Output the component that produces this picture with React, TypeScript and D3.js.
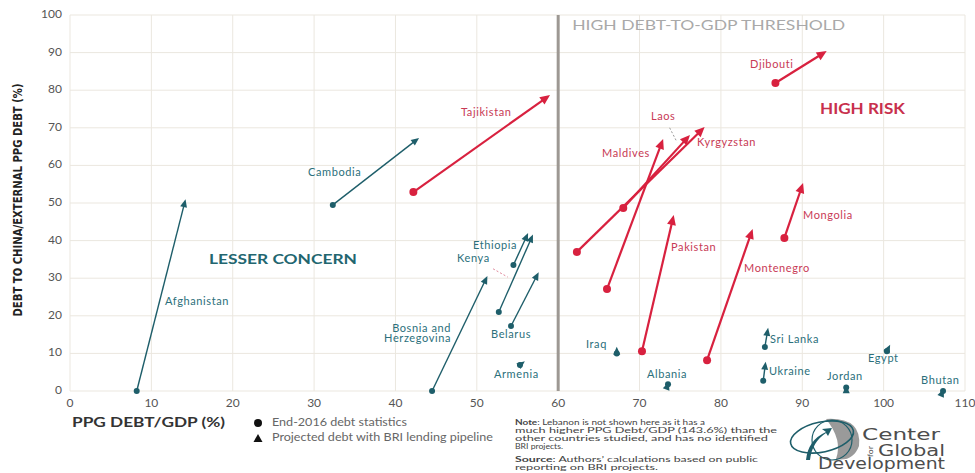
import React from 'react';
import * as d3 from 'd3';

// ---- Data ----
const countries = [
  'Afghanistan', 'Cambodia', 'Tajikistan', 'Djibouti', 'Kyrgyzstan', 'Laos', 'Maldives',
  'Pakistan', 'Montenegro', 'Mongolia', 'Ethiopia', 'Kenya', 'Bosnia and Herzegovina',
  'Belarus', 'Armenia', 'Iraq', 'Albania', 'Sri Lanka', 'Ukraine', 'Jordan', 'Egypt', 'Bhutan',
];
const debtGdp2016 = [8.2, 32.3, 42.2, 86.7, 62.3, 68.0, 66.0, 70.3, 78.3, 87.8, 54.5, 52.7, 44.5, 54.2, 55.3, 67.2, 73.5, 85.4, 85.2, 95.4, 100.4, 107.3];
const chinaShare2016 = [0, 49.5, 52.9, 81.9, 37.0, 48.7, 27.1, 10.6, 8.2, 40.7, 33.5, 21.0, 0, 17.3, 6.9, 10.0, 1.8, 11.7, 2.7, 0.9, 10.6, 0];
const debtGdpProjected = [14.2, 42.9, 59.0, 93.0, 78.0, 76.2, 72.9, 74.2, 83.9, 90.1, 56.3, 56.9, 51.3, 57.6, 55.9, 67.2, 73.6, 85.8, 85.5, 95.4, 100.8, 107.4];
const chinaShareProjected = [51, 67.3, 78.7, 90.4, 70.2, 68.1, 67.0, 46.8, 43.1, 55.3, 42.0, 41.6, 30.6, 31.6, 7.9, 11.8, 2.4, 16.8, 7.8, 1.5, 12.3, 0.5];
const highRisk = [false, false, true, true, true, true, true, true, true, true, false, false, false, false, false, false, false, false, false, false, false, false];

const xTickValues = [0, 10, 20, 30, 40, 50, 60, 70, 80, 90, 100, 110];
const yTickValues = [0, 10, 20, 30, 40, 50, 60, 70, 80, 90, 100];
const threshold = 60;

// ---- Label placement (data units), layout only ----
const labelLines: Record<string, string[]> = { 'Bosnia and Herzegovina': ['Bosnia and', 'Herzegovina'] };
const labelPos: Record<string, [number, number, string]> = {
  Afghanistan: [11.68, 23.7, 'start'],
  Cambodia: [29.25, 58.0, 'start'],
  Tajikistan: [48.06, 73.9, 'start'],
  Djibouti: [83.58, 86.7, 'start'],
  Kyrgyzstan: [77.07, 66.0, 'start'],
  Laos: [71.4, 72.9, 'start'],
  Maldives: [65.4, 63.0, 'start'],
  Pakistan: [73.87, 38.0, 'start'],
  Montenegro: [82.84, 32.4, 'start'],
  Mongolia: [90.09, 46.5, 'start'],
  Ethiopia: [49.53, 38.6, 'start'],
  Kenya: [47.57, 35.1, 'start'],
  'Bosnia and Herzegovina': [46.83, 16.5, 'end'],
  Belarus: [51.75, 14.9, 'start'],
  Armenia: [52.11, 4.3, 'start'],
  Iraq: [63.42, 12.2, 'start'],
  Albania: [70.92, 4.3, 'start'],
  'Sri Lanka': [86.04, 13.6, 'start'],
  Ukraine: [85.91, 5.1, 'start'],
  Jordan: [93.04, 3.7, 'start'],
  Egypt: [98.08, 8.5, 'start'],
  Bhutan: [104.6, 2.7, 'start'],
};
const leaders: [number, number, number, number, string][] = [
  [73.7, 70.0, 74.6, 66.2, 'Laos'],
  [52.0, 32.5, 53.8, 30.3, 'Kenya'],
];

const TEAL = '#1e5e6a';
const TEAL_TXT = '#2b6f7b';
const RED = '#d8213f';
const RED_TXT = '#c83a55';
const GRID = '#ebe7df';

export default function App() {
  const x = d3.scaleLinear().domain([0, 110]).range([70, 965]);
  const y = d3.scaleLinear().domain([0, 100]).range([391, 15]);

  const marks = countries.map((name, i) => {
    const x0 = x(debtGdp2016[i]), y0 = y(chinaShare2016[i]);
    const x1 = x(debtGdpProjected[i]), y1 = y(chinaShareProjected[i]);
    const red = highRisk[i];
    const a = Math.atan2(y1 - y0, x1 - x0);
    const L = red ? 10 : 8;
    const w = red ? 4.5 : 3.5;
    const c = Math.cos(a), s = Math.sin(a);
    const bx = x1 - L * c, by = y1 - L * s;
    const tri = `M${x1},${y1}L${bx + w * s},${by - w * c}L${bx - w * s},${by + w * c}Z`;
    const len = Math.hypot(x1 - x0, y1 - y0);
    const lx = len > L ? x1 - L * 0.6 * c : x0;
    const ly = len > L ? y1 - L * 0.6 * s : y0;
    return { name, x0, y0, lx, ly, tri, red };
  });

  const font = "Lato, 'Open Sans', sans-serif";

  return (
    <svg width={975} height={473} viewBox="0 0 975 473"
      style={{ position: 'absolute', left: 0, top: 0, background: '#fff' }}
      fontFamily={font}>
      <rect x={0} y={0} width={975} height={473} fill="#fff" />
      {/* grid */}
      <g stroke={GRID} strokeWidth={1}>
        {xTickValues.map(v => (
          <line key={'gx' + v} x1={x(v)} x2={x(v)} y1={y(0)} y2={y(100)} />
        ))}
        {yTickValues.map(v => (
          <line key={'gy' + v} x1={x(0)} x2={x(110)} y1={y(v)} y2={y(v)} />
        ))}
      </g>
      {/* threshold */}
      <line x1={x(threshold)} x2={x(threshold)} y1={y(100)} y2={y(0)} stroke="#9d9893" strokeWidth={3} />
      <text x={x(threshold) + 14} y={27} dominantBaseline="middle" fill="#a9a9a9" fontSize={13.5}
        textLength={273} lengthAdjust="spacingAndGlyphs">HIGH DEBT-TO-GDP THRESHOLD</text>

      {/* ticks */}
      {yTickValues.map(v => (
        <text key={'ty' + v} x={62} y={y(v)} textAnchor="end" dominantBaseline="middle" fontSize={12} fill="#555">{v}</text>
      ))}
      {xTickValues.map(v => (
        <text key={'tx' + v} x={x(v)} y={404} textAnchor="middle" dominantBaseline="middle" fontSize={12} fill="#555">{v}</text>
      ))}

      {/* axis titles */}
      <text transform={`translate(18,200) rotate(-90)`} textAnchor="middle" dominantBaseline="middle"
        fontFamily="'Liberation Sans Narrow', 'DejaVu Sans Condensed', sans-serif" fontWeight="bold" fontSize={13}
        fill="#222" textLength={233} lengthAdjust="spacingAndGlyphs">DEBT TO CHINA/EXTERNAL PPG DEBT (%)</text>
      <text x={72} y={423} dominantBaseline="middle" fontWeight="bold" fontSize={14} fill="#333"
        textLength={153} lengthAdjust="spacingAndGlyphs">PPG DEBT/GDP (%)</text>

      {/* region labels */}
      <text x={820} y={110} dominantBaseline="middle" fontWeight="bold" fontSize={14.5} fill="#c8304d"
        textLength={85} lengthAdjust="spacingAndGlyphs">HIGH RISK</text>
      <text x={209} y={261} dominantBaseline="middle" fontWeight="bold" fontSize={13.5} fill="#22666f"
        textLength={148} lengthAdjust="spacingAndGlyphs">LESSER CONCERN</text>

      {/* leaders */}
      {leaders.map(([ax, ay, bx, by, n]) => (
        <line key={'ld' + n} x1={x(ax)} y1={y(ay)} x2={x(bx)} y2={y(by)}
          stroke={n === 'Kenya' ? '#e0889a' : '#999'} strokeWidth={1} strokeDasharray="2,2" />
      ))}

      {/* arrows */}
      {marks.map(m => (
        <line key={'l' + m.name} x1={m.x0} y1={m.y0} x2={m.lx} y2={m.ly}
          stroke={m.red ? RED : TEAL} strokeWidth={m.red ? 2.2 : 1.4} />
      ))}
      {marks.map(m => (
        <g key={'m' + m.name} fill={m.red ? RED : TEAL}>
          <circle cx={m.x0} cy={m.y0} r={m.red ? 4 : 3} />
          <path d={m.tri} />
        </g>
      ))}

      {/* country labels */}
      {countries.map((name, i) => {
        const p = labelPos[name];
        const lines = labelLines[name] || [name];
        return (
          <text key={'t' + name} x={x(p[0])} y={y(p[1])} textAnchor={p[2]} dominantBaseline="middle"
            fontSize={11} letterSpacing={0.6} fill={highRisk[i] ? RED_TXT : TEAL_TXT}>
            {lines.map((ln, k) => (
              <tspan key={k} x={x(p[0])} dy={k === 0 ? 0 : 10.5}>{ln}</tspan>
            ))}
          </text>
        );
      })}

      {/* legend */}
      <circle cx={258} cy={423} r={4} fill="#111" />
      <path d="M258,434L262.5,442L253.5,442Z" fill="#111" />
      <text x={272} y={423} dominantBaseline="middle" fontSize={11} fill="#666"
        textLength={135} lengthAdjust="spacingAndGlyphs">End-2016 debt statistics</text>
      <text x={272} y={438} dominantBaseline="middle" fontSize={11} fill="#666"
        textLength={221} lengthAdjust="spacingAndGlyphs">Projected debt with BRI lending pipeline</text>

      {/* note */}
      <g fontSize={7.6} fill="#444">
        <text x={515} y={423} dominantBaseline="middle" textLength={190} lengthAdjust="spacingAndGlyphs">
          <tspan fontWeight="bold">Note</tspan>: Lebanon is not shown here as it has a</text>
        <text x={515} y={431.5} dominantBaseline="middle" textLength={262} lengthAdjust="spacingAndGlyphs">much higher PPG Debt/GDP (143.6%) than the</text>
        <text x={515} y={439.5} dominantBaseline="middle" textLength={253} lengthAdjust="spacingAndGlyphs">other countries studied, and has no identified</text>
        <text x={515} y={447.5} dominantBaseline="middle" textLength={48} lengthAdjust="spacingAndGlyphs">BRI projects.</text>
        <text x={515} y={460} dominantBaseline="middle" textLength={243} lengthAdjust="spacingAndGlyphs">
          <tspan fontWeight="bold">Source</tspan>: Authors’ calculations based on public</text>
        <text x={515} y={468} dominantBaseline="middle" textLength={143} lengthAdjust="spacingAndGlyphs">reporting on BRI projects.</text>
      </g>

      {/* logo */}
      <g>
        <path d="M826,419 Q862,417 859,446 Q853,462 836,459 Q843,440 826,419 Z" fill="#9a9a9a" />
        <ellipse cx={822} cy={437} rx={32} ry={15} transform="rotate(-12 822 437)" fill="none" stroke={TEAL} strokeWidth={1.6} />
        <circle cx={832} cy={440} r={20} fill="none" stroke={TEAL} strokeWidth={1.2} />
        <path d="M806,460 Q808,440 826,432 L822,429 L832,428 L828,436 L826,433 Q812,442 810,460 Z" fill={TEAL} />
        <g fontFamily="'DejaVu Sans', sans-serif" fill="#4d4d4d">
          <text x={862} y={440} fontSize={16} textLength={78} lengthAdjust="spacingAndGlyphs">Center</text>
          <text transform="translate(873,457) rotate(-90)" fontSize={7} textLength={11} lengthAdjust="spacingAndGlyphs">for</text>
          <text x={878} y={456} fontSize={16} textLength={67} lengthAdjust="spacingAndGlyphs">Global</text>
          <text x={818} y={469} fontSize={15.5} textLength={127} lengthAdjust="spacingAndGlyphs">Development</text>
        </g>
      </g>
    </svg>
  );
}
